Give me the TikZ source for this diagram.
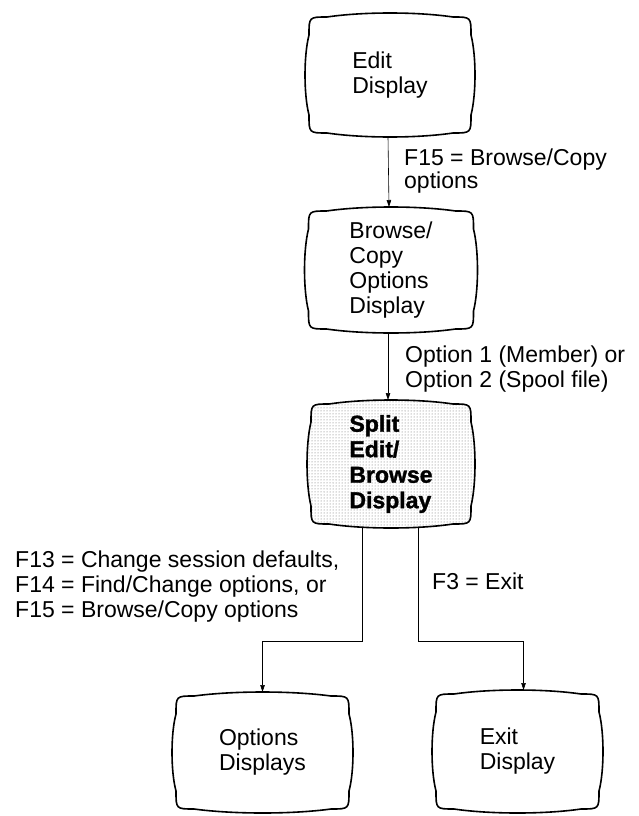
\documentclass[tikz,border=0pt]{standalone}
\usepackage{fontspec}
\setmainfont{Liberation Sans}
\newfontfamily\heavyfont{Liberation Sans}[BoldFeatures={FakeBold=1.5}]
\usetikzlibrary{calc,arrows.meta,patterns,backgrounds}

\tikzset{
  tvnode/.style={inner sep=0pt, outer sep=0pt, align=left, font=\fontsize{23}{25}\selectfont},
  tvline/.style={draw, line width=1.6pt, line join=round},
  conn/.style={draw, line width=0.6pt},
  arr/.style={conn, -{Triangle[length=7pt,width=4.5pt]}},
  lbl/.style={inner sep=0pt, anchor=base west, align=left, font=\fontsize{23}{25}\selectfont},
}

\newcommand\tvshape[2][]{%
  \path[tvline,#1] let \p1=(#2.north west), \p2=(#2.south east),
    \n1={(\x2-\x1-8pt)/3}, \n2={(\y1-\y2-8pt)/3} in
    (\x1+22pt,\y1-4pt)
    .. controls (\x1+4pt+\n1,\y1+1.33pt) and (\x2-4pt-\n1,\y1+1.33pt) .. (\x2-22pt,\y1-4pt)
    .. controls (\x2-4pt,\y1-4pt) .. (\x2-4pt,\y1-22pt)
    .. controls (\x2+1.33pt,\y1-4pt-\n2) and (\x2+1.33pt,\y2+4pt+\n2) .. (\x2-4pt,\y2+22pt)
    .. controls (\x2-4pt,\y2+4pt) .. (\x2-22pt,\y2+4pt)
    .. controls (\x2-4pt-\n1,\y2-1.33pt) and (\x1+4pt+\n1,\y2-1.33pt) .. (\x1+22pt,\y2+4pt)
    .. controls (\x1+4pt,\y2+4pt) .. (\x1+4pt,\y2+22pt)
    .. controls (\x1-1.33pt,\y2+4pt+\n2) and (\x1-1.33pt,\y1-4pt-\n2) .. (\x1+4pt,\y1-22pt)
    .. controls (\x1+4pt,\y1-4pt) .. (\x1+22pt,\y1-4pt) -- cycle;}

\begin{document}
\begin{tikzpicture}[x=1pt,y=-1pt]
\useasboundingbox (0,0) rectangle (639,816);

% display boxes
\node[tvnode, minimum width=170pt, minimum height=124pt] (edit) at (390,75) {Edit\\Display};
\node[tvnode, minimum width=173pt, minimum height=126pt] (browse) at (391,270) {Browse/\\Copy\\Options\\Display};
\node[tvnode, minimum width=168pt, minimum height=128pt, font=\fontsize{23}{25.5}\selectfont\heavyfont\bfseries] (split) at (391,464) {Split\\Edit/\\Browse\\Display};
\node[tvnode, minimum width=181pt, minimum height=121pt] (options) at (262.5,752.5) {Options\\Displays};
\node[tvnode, minimum width=171pt, minimum height=123pt] (exit) at (517.5,751.5) {Exit\\Display};

\begin{pgfonlayer}{background}
  \tvshape{edit}
  \tvshape{browse}
  \tvshape[pattern=dots, pattern color=black!60]{split}
  \tvshape{options}
  \tvshape{exit}
\end{pgfonlayer}

% labels (anchor = baseline of last line)
\node[lbl, font=\fontsize{23}{23}\selectfont] (l1) at (404,188) {F15 = Browse/Copy\\options};
\node[lbl] (l2) at (405,387) {Option 1 (Member) or\\Option 2 (Spool file)};
\node[lbl] (l3) at (15,617) {F13 = Change session defaults,\\F14 = Find/Change options, or\\F15 = Browse/Copy options};
\node[lbl] (l4) at (432,589) {F3 = Exit};

% connectors
\coordinate (lbend) at (262.5,641);
\coordinate (rbend) at (523.5,641);
\draw[arr] ([xshift=-2pt]edit.south) -- ([xshift=-2pt]browse.north);
\draw[arr] ([xshift=-3pt]browse.south) -- ([xshift=-3pt]split.north);
\draw[arr] ([xshift=-29pt]split.south) |- (lbend) -- (options.north);
\draw[arr] ([xshift=27pt]split.south) |- (rbend) -- ([xshift=6pt]exit.north);
\end{tikzpicture}
\end{document}
